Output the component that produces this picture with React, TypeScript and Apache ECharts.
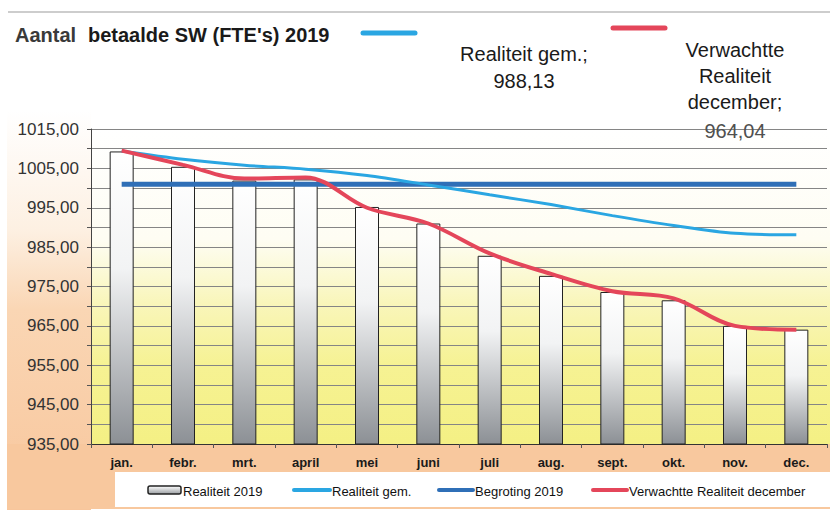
import React, { useEffect, useRef } from 'react';
import * as echarts from 'echarts';

const months = ['jan.', 'febr.', 'mrt.', 'april', 'mei', 'juni', 'juli', 'aug.', 'sept.', 'okt.', 'nov.', 'dec.'];
const realiteit2019 = [1009.3, 1005.4, 1001.9, 1002.2, 995.2, 991.0, 982.8, 977.7, 973.6, 971.5, 965.0, 964.04];
const realiteitGem = [1009.4, 1007.3, 1005.8, 1004.8, 1003.2, 1000.8, 998.3, 995.8, 993.0, 990.5, 988.5, 988.13];
const begroting2019 = [1001, 1001, 1001, 1001, 1001, 1001, 1001, 1001, 1001, 1001, 1001, 1001];
const verwachtDecember = [1009.5, 1005.9, 1002.4, 1002.7, 995.0, 991.0, 983.4, 978.2, 973.8, 972.0, 965.0, 964.04];
const legendNames = ['Realiteit 2019', 'Realiteit gem.', 'Begroting 2019', 'Verwachtte Realiteit december'];

const yMin = 935;
const yMax = 1015;
const yStep = 5;

const FONT = '"Liberation Sans", Arial, sans-serif';
const C_GEM = '#2aa6e2';
const C_BEG = '#2f6fb7';
const C_RED = '#e4465a';

export default function App() {
  const ref = useRef<HTMLDivElement>(null);
  useEffect(() => {
    if (!ref.current) return;
    const chart = echarts.init(ref.current, null, { renderer: 'svg' });
    const barGrad = new echarts.graphic.LinearGradient(0, 0, 0, 1, [
      { offset: 0, color: '#ffffff' },
      { offset: 0.4, color: '#f2f3f4' },
      { offset: 1, color: '#8c9095' },
    ]);
    const legendText = (x: number, text: string) => ({
      type: 'text',
      x,
      y: 491,
      z: 20,
      style: { text, fill: '#111', font: '13px "Liberation Sans", Arial, sans-serif', textVerticalAlign: 'middle' },
    });
    const legendLine = (x1: number, x2: number, color: string) => ({
      type: 'line',
      z: 20,
      silent: true,
      shape: { x1, y1: 490, x2, y2: 490 },
      style: { stroke: color, lineWidth: 4, lineCap: 'round' },
    });
    chart.setOption({
      animation: false,
      backgroundColor: '#ffffff',
      textStyle: { fontFamily: FONT },
      grid: { left: 91, right: 3, top: 129, bottom: 67, containLabel: false },
      xAxis: {
        type: 'category',
        data: months,
        boundaryGap: true,
        axisLine: { lineStyle: { color: '#333', width: 1 } },
        axisTick: { show: true, length: 4, lineStyle: { color: '#555' } },
        axisLabel: { color: '#1a1a1a', fontSize: 13, fontWeight: 'bold', margin: 12, fontFamily: FONT },
        splitLine: { show: false },
      },
      yAxis: {
        type: 'value',
        min: yMin,
        max: yMax,
        interval: yStep,
        axisLine: { show: true, lineStyle: { color: '#444', width: 1 } },
        axisTick: { show: true, length: 4, lineStyle: { color: '#555' } },
        axisLabel: {
          color: '#333',
          fontSize: 17,
          margin: 12,
          fontFamily: FONT,
          formatter: (v: number) => (Math.round(v - yMin) % 10 === 0 ? v.toFixed(2).replace('.', ',') : ''),
        },
        splitLine: { show: true, lineStyle: { color: '#858585', width: 1 } },
      },
      legend: { show: false, data: legendNames },
      series: [
        {
          name: legendNames[0],
          type: 'bar',
          data: realiteit2019,
          barWidth: 24,
          itemStyle: { color: barGrad, borderColor: '#222', borderWidth: 1 },
          z: 2,
        },
        {
          name: legendNames[1],
          type: 'line',
          data: realiteitGem,
          smooth: 0.3,
          symbol: 'none',
          lineStyle: { color: C_GEM, width: 3 },
          itemStyle: { color: C_GEM },
          z: 4,
        },
        {
          name: legendNames[2],
          type: 'line',
          data: begroting2019,
          symbol: 'none',
          lineStyle: { color: C_BEG, width: 5 },
          itemStyle: { color: C_BEG },
          z: 3,
        },
        {
          name: legendNames[3],
          type: 'line',
          data: verwachtDecember,
          smooth: 0.35,
          symbol: 'none',
          lineStyle: { color: C_RED, width: 4 },
          itemStyle: { color: C_RED },
          z: 5,
        },
      ],
      graphic: [
        {
          type: 'rect',
          z: -10,
          silent: true,
          shape: { x: 7, y: 110, width: 84, height: 400 },
          style: {
            fill: new echarts.graphic.LinearGradient(0, 0, 0, 1, [
              { offset: 0, color: '#ffffff' },
              { offset: 0.3, color: '#fdf0e2' },
              { offset: 0.5, color: '#fad6b4' },
              { offset: 1, color: '#f8c69c' },
            ]),
          },
        },
        {
          type: 'rect',
          z: -10,
          silent: true,
          shape: { x: 7, y: 444, width: 823, height: 65 },
          style: { fill: '#f8c89e' },
        },
        {
          type: 'rect',
          z: -10,
          silent: true,
          shape: { x: 91, y: 129, width: 739, height: 315 },
          style: {
            fill: new echarts.graphic.LinearGradient(0, 0, 0, 1, [
              { offset: 0, color: '#ffffff' },
              { offset: 0.35, color: '#fefdf3' },
              { offset: 0.55, color: '#f9f6bb' },
              { offset: 0.75, color: '#f6f293' },
              { offset: 1, color: '#f4f084' },
            ]),
          },
        },
        {
          type: 'rect',
          z: -9,
          silent: true,
          shape: { x: 115, y: 472, width: 715, height: 35 },
          style: { fill: '#ffffff' },
        },
        {
          type: 'line',
          z: -9,
          silent: true,
          shape: { x1: 8, y1: 12, x2: 830, y2: 12 },
          style: { stroke: '#bdbdbd', lineWidth: 1.5 },
        },
        {
          type: 'rect',
          z: 20,
          silent: true,
          shape: { x: 148, y: 486, width: 33, height: 8, r: 2 },
          style: {
            fill: new echarts.graphic.LinearGradient(0, 0, 0, 1, [
              { offset: 0, color: '#ffffff' },
              { offset: 1, color: '#9a9ea2' },
            ]),
            stroke: '#222',
            lineWidth: 1.5,
          },
        },
        legendText(183, legendNames[0]),
        legendLine(294, 330, C_GEM),
        legendText(332, legendNames[1]),
        legendLine(439, 473, C_BEG),
        legendText(475, legendNames[2]),
        legendLine(593, 627, C_RED),
        legendText(629, legendNames[3]),
        {
          type: 'text',
          x: 15,
          y: 35,
          style: { text: 'Aantal', fill: '#3a3a3a', font: 'bold 20px "Liberation Sans", Arial, sans-serif', textVerticalAlign: 'middle' },
        },
        {
          type: 'text',
          x: 88,
          y: 35,
          style: { text: "betaalde SW (FTE's) 2019", fill: '#1a1a1a', font: 'bold 20px "Liberation Sans", Arial, sans-serif', textVerticalAlign: 'middle' },
        },
        {
          type: 'line',
          silent: true,
          shape: { x1: 363, y1: 33, x2: 415, y2: 33 },
          style: { stroke: C_GEM, lineWidth: 5, lineCap: 'round' },
        },
        {
          type: 'line',
          silent: true,
          shape: { x1: 613, y1: 28, x2: 665, y2: 28 },
          style: { stroke: C_RED, lineWidth: 5, lineCap: 'round' },
        },
        {
          type: 'text',
          x: 524,
          y: 54,
          style: { text: 'Realiteit gem.;', fill: '#1a1a1a', font: '20px "Liberation Sans", Arial, sans-serif', textAlign: 'center', textVerticalAlign: 'middle' },
        },
        {
          type: 'text',
          x: 524,
          y: 81,
          style: { text: '988,13', fill: '#1a1a1a', font: '20px "Liberation Sans", Arial, sans-serif', textAlign: 'center', textVerticalAlign: 'middle' },
        },
        {
          type: 'text',
          x: 735,
          y: 50,
          style: { text: 'Verwachtte', fill: '#1a1a1a', font: '20px "Liberation Sans", Arial, sans-serif', textAlign: 'center', textVerticalAlign: 'middle' },
        },
        {
          type: 'text',
          x: 735,
          y: 76,
          style: { text: 'Realiteit', fill: '#1a1a1a', font: '20px "Liberation Sans", Arial, sans-serif', textAlign: 'center', textVerticalAlign: 'middle' },
        },
        {
          type: 'text',
          x: 735,
          y: 102,
          style: { text: 'december;', fill: '#1a1a1a', font: '20px "Liberation Sans", Arial, sans-serif', textAlign: 'center', textVerticalAlign: 'middle' },
        },
        {
          type: 'text',
          x: 735,
          y: 131,
          z: 10,
          style: { text: '964,04', fill: '#505050', font: '20px "Liberation Sans", Arial, sans-serif', textAlign: 'center', textVerticalAlign: 'middle' },
        },
      ],
    });
    return () => chart.dispose();
  }, []);
  return <div ref={ref} style={{ position: 'fixed', left: 0, top: 0, width: 830, height: 511 }} />;
}
